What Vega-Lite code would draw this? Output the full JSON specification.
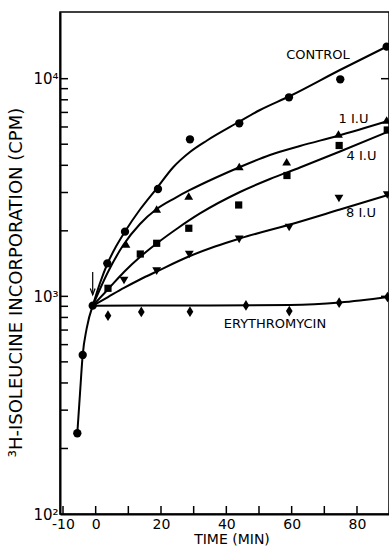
{
  "$schema": "https://vega.github.io/schema/vega-lite/v6.json",
  "width": 329,
  "height": 502,
  "autosize": "none",
  "padding": {"left": 60, "top": 12, "right": 0, "bottom": 32},
  "background": "white",
  "config": {
    "view": {"stroke": "black", "strokeWidth": 1.5},
    "font": "DejaVu Sans",
    "axis": {
      "labelFont": "DejaVu Sans", "titleFont": "DejaVu Sans",
      "labelColor": "black", "titleColor": "black",
      "domainColor": "black", "tickColor": "black",
      "titleFontWeight": "normal", "grid": false
    }
  },
  "datasets": {
    "curves": [
      {"series": "Pre", "t": -5.62, "cpm": 235},
      {"series": "Pre", "t": -4.80, "cpm": 358},
      {"series": "Pre", "t": -3.97, "cpm": 538},
      {"series": "Pre", "t": -2.75, "cpm": 713},
      {"series": "Pre", "t": -0.91, "cpm": 906},
      {"series": "Control", "t": -0.91, "cpm": 906},
      {"series": "Control", "t": 1.33, "cpm": 1152},
      {"series": "Control", "t": 3.56, "cpm": 1408},
      {"series": "Control", "t": 6.22, "cpm": 1694},
      {"series": "Control", "t": 8.98, "cpm": 1986},
      {"series": "Control", "t": 13.57, "cpm": 2506},
      {"series": "Control", "t": 18.77, "cpm": 3146},
      {"series": "Control", "t": 23.67, "cpm": 3908},
      {"series": "Control", "t": 28.87, "cpm": 4604},
      {"series": "Control", "t": 34.08, "cpm": 5201},
      {"series": "Control", "t": 43.26, "cpm": 6258},
      {"series": "Control", "t": 50.31, "cpm": 7180},
      {"series": "Control", "t": 59.48, "cpm": 8326},
      {"series": "Control", "t": 74.79, "cpm": 10965},
      {"series": "Control", "t": 89.48, "cpm": 14134},
      {"series": "1 IU", "t": -0.91, "cpm": 906},
      {"series": "1 IU", "t": 3.77, "cpm": 1294},
      {"series": "1 IU", "t": 8.46, "cpm": 1721},
      {"series": "1 IU", "t": 13.57, "cpm": 2150},
      {"series": "1 IU", "t": 18.68, "cpm": 2519},
      {"series": "1 IU", "t": 24.28, "cpm": 2830},
      {"series": "1 IU", "t": 28.87, "cpm": 3081},
      {"series": "1 IU", "t": 36.53, "cpm": 3498},
      {"series": "1 IU", "t": 44.18, "cpm": 3930},
      {"series": "1 IU", "t": 53.36, "cpm": 4461},
      {"series": "1 IU", "t": 62.54, "cpm": 4907},
      {"series": "1 IU", "t": 73.87, "cpm": 5453},
      {"series": "1 IU", "t": 89.48, "cpm": 6393},
      {"series": "4 IU", "t": -0.91, "cpm": 906},
      {"series": "4 IU", "t": 3.87, "cpm": 1081},
      {"series": "4 IU", "t": 8.67, "cpm": 1294},
      {"series": "4 IU", "t": 13.57, "cpm": 1516},
      {"series": "4 IU", "t": 18.68, "cpm": 1749},
      {"series": "4 IU", "t": 25.2, "cpm": 2061},
      {"series": "4 IU", "t": 31.93, "cpm": 2403},
      {"series": "4 IU", "t": 44.18, "cpm": 3016},
      {"series": "4 IU", "t": 53.36, "cpm": 3461},
      {"series": "4 IU", "t": 62.54, "cpm": 3908},
      {"series": "4 IU", "t": 74.79, "cpm": 4629},
      {"series": "4 IU", "t": 89.48, "cpm": 5707},
      {"series": "8 IU", "t": -0.91, "cpm": 906},
      {"series": "8 IU", "t": 3.77, "cpm": 993},
      {"series": "8 IU", "t": 8.67, "cpm": 1093},
      {"series": "8 IU", "t": 13.57, "cpm": 1195},
      {"series": "8 IU", "t": 18.68, "cpm": 1301},
      {"series": "8 IU", "t": 28.87, "cpm": 1532},
      {"series": "8 IU", "t": 36.53, "cpm": 1694},
      {"series": "8 IU", "t": 44.18, "cpm": 1845},
      {"series": "8 IU", "t": 59.48, "cpm": 2138},
      {"series": "8 IU", "t": 74.79, "cpm": 2506},
      {"series": "8 IU", "t": 89.48, "cpm": 2922},
      {"series": "Erythromycin", "t": -0.91, "cpm": 906},
      {"series": "Erythromycin", "t": 15.0, "cpm": 907},
      {"series": "Erythromycin", "t": 31.93, "cpm": 908},
      {"series": "Erythromycin", "t": 59.48, "cpm": 913},
      {"series": "Erythromycin", "t": 74.79, "cpm": 937},
      {"series": "Erythromycin", "t": 89.48, "cpm": 993}
    ],
    "points": [
      {"series": "Pre", "t": -5.62, "cpm": 235},
      {"series": "Pre", "t": -3.97, "cpm": 538},
      {"series": "Pre", "t": -0.91, "cpm": 906},
      {"series": "Control", "t": 3.56, "cpm": 1418},
      {"series": "Control", "t": 8.98, "cpm": 1982},
      {"series": "Control", "t": 19.08, "cpm": 3113},
      {"series": "Control", "t": 28.87, "cpm": 5267},
      {"series": "Control", "t": 43.96, "cpm": 6238},
      {"series": "Control", "t": 59.18, "cpm": 8214},
      {"series": "Control", "t": 74.88, "cpm": 9936},
      {"series": "Control", "t": 89.08, "cpm": 14030},
      {"series": "1 IU", "t": 9.28, "cpm": 1740},
      {"series": "1 IU", "t": 18.68, "cpm": 2519},
      {"series": "1 IU", "t": 28.48, "cpm": 2892},
      {"series": "1 IU", "t": 43.96, "cpm": 3951},
      {"series": "1 IU", "t": 58.47, "cpm": 4155},
      {"series": "1 IU", "t": 74.33, "cpm": 5570},
      {"series": "1 IU", "t": 89.08, "cpm": 6461},
      {"series": "4 IU", "t": 3.77, "cpm": 1089},
      {"series": "4 IU", "t": 13.66, "cpm": 1565},
      {"series": "4 IU", "t": 18.68, "cpm": 1753},
      {"series": "4 IU", "t": 28.51, "cpm": 2055},
      {"series": "4 IU", "t": 43.78, "cpm": 2629},
      {"series": "4 IU", "t": 58.56, "cpm": 3591},
      {"series": "4 IU", "t": 74.54, "cpm": 4933},
      {"series": "4 IU", "t": 89.27, "cpm": 5811},
      {"series": "8 IU", "t": 8.67, "cpm": 1183},
      {"series": "8 IU", "t": 18.68, "cpm": 1305},
      {"series": "8 IU", "t": 28.66, "cpm": 1557},
      {"series": "8 IU", "t": 43.93, "cpm": 1828},
      {"series": "8 IU", "t": 59.24, "cpm": 2072},
      {"series": "8 IU", "t": 74.48, "cpm": 2815},
      {"series": "8 IU", "t": 89.27, "cpm": 2922},
      {"series": "Erythromycin", "t": 3.77, "cpm": 815},
      {"series": "Erythromycin", "t": 13.97, "cpm": 848},
      {"series": "Erythromycin", "t": 28.87, "cpm": 850},
      {"series": "Erythromycin", "t": 46.01, "cpm": 908},
      {"series": "Erythromycin", "t": 59.27, "cpm": 856},
      {"series": "Erythromycin", "t": 74.54, "cpm": 935},
      {"series": "Erythromycin", "t": 89.33, "cpm": 993}
    ],
    "labels": [
      {"label": "CONTROL", "t": 68.05, "cpm": 12850},
      {"label": "1 I.U", "t": 78.92, "cpm": 6530},
      {"label": "4 I.U", "t": 81.37, "cpm": 4414},
      {"label": "8 I.U", "t": 81.22, "cpm": 2415},
      {"label": "ERYTHROMYCIN", "t": 54.89, "cpm": 746}
    ],
    "arrow": [
      {"t": -0.91, "cpm": 1294, "cpm2": 1016}
    ],
    "xticks": [
      {"t": -10, "cpm": 100}, {"t": 0, "cpm": 100}, {"t": 10, "cpm": 100},
      {"t": 20, "cpm": 100}, {"t": 30, "cpm": 100}, {"t": 40, "cpm": 100},
      {"t": 50, "cpm": 100}, {"t": 60, "cpm": 100}, {"t": 70, "cpm": 100},
      {"t": 80, "cpm": 100}, {"t": 90, "cpm": 100}
    ],
    "yticks": [
      {"t": -10.92, "cpm": 200}, {"t": -10.92, "cpm": 300},
      {"t": -10.92, "cpm": 400}, {"t": -10.92, "cpm": 500}, {"t": -10.92, "cpm": 600},
      {"t": -10.92, "cpm": 700}, {"t": -10.92, "cpm": 800}, {"t": -10.92, "cpm": 900},
      {"t": -10.92, "cpm": 1000}, {"t": -10.92, "cpm": 2000}, {"t": -10.92, "cpm": 3000},
      {"t": -10.92, "cpm": 4000}, {"t": -10.92, "cpm": 5000}, {"t": -10.92, "cpm": 6000},
      {"t": -10.92, "cpm": 7000}, {"t": -10.92, "cpm": 8000}, {"t": -10.92, "cpm": 9000},
      {"t": -10.92, "cpm": 10000}
    ],
    "yticksRight": [
      {"t": 89.8, "cpm": 1000}, {"t": 89.8, "cpm": 10000}
    ]
  },
  "layer": [
    {
      "data": {"name": "curves"},
      "mark": {"type": "line", "color": "black", "strokeWidth": 2, "interpolate": "monotone"},
      "encoding": {
        "x": {
          "field": "t", "type": "quantitative",
          "scale": {"domain": [-10.92, 89.8], "nice": false, "zero": false},
          "axis": {
            "orient": "bottom",
            "values": [-10, 0, 20, 40, 60, 80],
            "labelExpr": "'' + datum.value",
            "ticks": false, "domainWidth": 2,
            "labelPadding": 3, "labelFontSize": 14, "labelFlush": false, "labelOverlap": false,
            "title": "TIME (MIN)", "titleFontSize": 14, "titleX": 171.5, "titleY": 18,
            "titleBaseline": "top", "titleAlign": "center"
          }
        },
        "y": {
          "field": "cpm", "type": "quantitative",
          "scale": {"type": "log", "domain": [100, 20250], "nice": false},
          "axis": {
            "orient": "left",
            "values": [100, 1000, 10000],
            "labelExpr": "datum.value == 100 ? '10²' : datum.value == 1000 ? '10³' : '10⁴'",
            "ticks": false, "domainWidth": 2,
            "labelPadding": 2, "labelFontSize": 15, "labelFlush": false, "labelOverlap": false,
            "title": "³H-ISOLEUCINE INCORPORATION (CPM)", "titleFontSize": 18,
            "titleX": -44, "titleY": 270, "titleAngle": -90,
            "titleBaseline": "middle", "titleAlign": "center"
          }
        },
        "detail": {"field": "series", "type": "nominal"}
      }
    },
    {
      "data": {"name": "points"},
      "mark": {"type": "point", "filled": true, "color": "black", "opacity": 1},
      "encoding": {
        "x": {"field": "t", "type": "quantitative", "scale": {"domain": [-10.92, 89.8], "nice": false, "zero": false}, "axis": null},
        "y": {"field": "cpm", "type": "quantitative", "scale": {"type": "log", "domain": [100, 20250], "nice": false}, "axis": null},
        "shape": {
          "field": "series", "type": "nominal", "legend": null,
          "scale": {
            "domain": ["Pre", "Control", "1 IU", "4 IU", "8 IU", "Erythromycin"],
            "range": ["circle", "circle", "triangle-up", "square", "triangle-down", "M0,-1L0.62,0L0,1L-0.62,0Z"]
          }
        },
        "size": {
          "field": "series", "type": "nominal", "legend": null,
          "scale": {
            "type": "ordinal",
            "domain": ["Pre", "Control", "1 IU", "4 IU", "8 IU", "Erythromycin"],
            "range": [69, 69, 78, 52, 78, 115]
          }
        }
      }
    },
    {
      "data": {"name": "xticks"},
      "mark": {"type": "point", "shape": "M0,0L0,-2", "filled": false, "stroke": "black", "strokeWidth": 1.5, "size": 64, "opacity": 1},
      "encoding": {
        "x": {"field": "t", "type": "quantitative", "scale": {"domain": [-10.92, 89.8], "nice": false, "zero": false}, "axis": null},
        "y": {"field": "cpm", "type": "quantitative", "scale": {"type": "log", "domain": [100, 20250], "nice": false}, "axis": null}
      }
    },
    {
      "data": {"name": "yticks"},
      "mark": {"type": "point", "shape": "M0,0L2,0", "filled": false, "stroke": "black", "strokeWidth": 1.5, "size": 64, "opacity": 1},
      "encoding": {
        "x": {"field": "t", "type": "quantitative", "scale": {"domain": [-10.92, 89.8], "nice": false, "zero": false}, "axis": null},
        "y": {"field": "cpm", "type": "quantitative", "scale": {"type": "log", "domain": [100, 20250], "nice": false}, "axis": null}
      }
    },
    {
      "data": {"name": "yticksRight"},
      "mark": {"type": "point", "shape": "M0,0L-2,0", "filled": false, "stroke": "black", "strokeWidth": 1.5, "size": 64, "opacity": 1},
      "encoding": {
        "x": {"field": "t", "type": "quantitative", "scale": {"domain": [-10.92, 89.8], "nice": false, "zero": false}, "axis": null},
        "y": {"field": "cpm", "type": "quantitative", "scale": {"type": "log", "domain": [100, 20250], "nice": false}, "axis": null}
      }
    },
    {
      "data": {"name": "arrow"},
      "mark": {"type": "rule", "color": "black", "strokeWidth": 1.2},
      "encoding": {
        "x": {"field": "t", "type": "quantitative", "scale": {"domain": [-10.92, 89.8], "nice": false, "zero": false}, "axis": null},
        "y": {"field": "cpm", "type": "quantitative", "scale": {"type": "log", "domain": [100, 20250], "nice": false}, "axis": null},
        "y2": {"field": "cpm2"}
      }
    },
    {
      "data": {"name": "arrow"},
      "mark": {"type": "point", "shape": "M-0.6,-1.6L0,0L0.6,-1.6", "filled": false, "stroke": "black", "strokeWidth": 1.2, "size": 64, "opacity": 1},
      "encoding": {
        "x": {"field": "t", "type": "quantitative", "scale": {"domain": [-10.92, 89.8], "nice": false, "zero": false}, "axis": null},
        "y": {"field": "cpm2", "type": "quantitative", "scale": {"type": "log", "domain": [100, 20250], "nice": false}, "axis": null}
      }
    },
    {
      "data": {"name": "labels"},
      "mark": {"type": "text", "color": "black", "font": "DejaVu Sans", "fontSize": 13, "align": "center", "baseline": "middle"},
      "encoding": {
        "x": {"field": "t", "type": "quantitative", "scale": {"domain": [-10.92, 89.8], "nice": false, "zero": false}, "axis": null},
        "y": {"field": "cpm", "type": "quantitative", "scale": {"type": "log", "domain": [100, 20250], "nice": false}, "axis": null},
        "text": {"field": "label", "type": "nominal"}
      }
    }
  ],
  "resolve": {"axis": {"x": "independent", "y": "independent"}}
}
